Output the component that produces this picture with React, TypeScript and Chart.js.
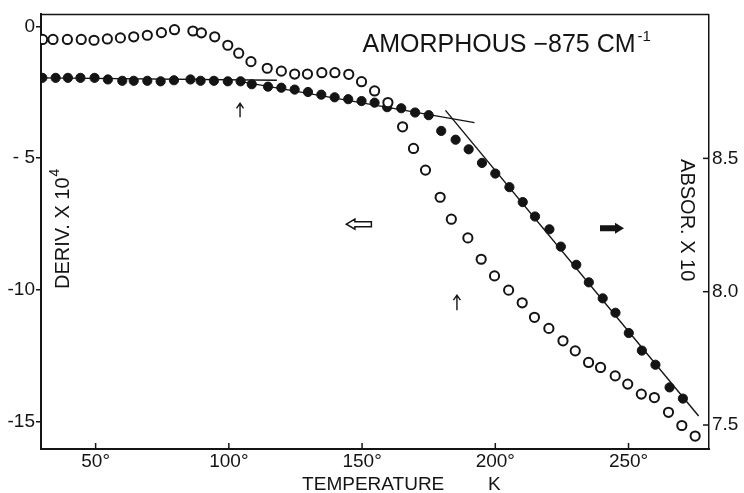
import React, { useEffect, useRef } from "react";
import { Chart, registerables } from "chart.js";

Chart.register(...registerables);

// Open circles: derivative (left axis, x 10^4)
const derivTemps = [30.1, 34.0, 39.4, 44.6, 49.4, 54.4, 59.3, 64.3, 69.4, 74.7, 79.6, 86.5, 89.7, 94.7, 99.6, 103.7, 108.3, 114.4, 119.7, 124.7, 129.5, 134.9, 139.8, 145.0, 149.8, 154.7, 159.7, 165.2, 169.3, 173.8, 179.3, 183.5, 189.7, 194.7, 199.7, 205.0, 210.1, 214.7, 220.1, 225.4, 230.0, 235.0, 239.5, 245.0, 249.7, 254.8, 259.7, 265.0, 270.0, 275.0];
const derivValues = [-0.50, -0.50, -0.50, -0.50, -0.53, -0.48, -0.44, -0.40, -0.34, -0.24, -0.13, -0.18, -0.25, -0.40, -0.72, -1.02, -1.34, -1.59, -1.70, -1.81, -1.81, -1.76, -1.76, -1.82, -2.10, -2.45, -2.89, -3.81, -4.63, -5.45, -6.48, -7.31, -8.02, -8.83, -9.46, -10.00, -10.48, -11.03, -11.45, -11.92, -12.30, -12.74, -12.93, -13.25, -13.56, -13.94, -14.07, -14.63, -15.13, -15.53];

// Filled circles: absorbance (right axis, x 10)
const absorTemps = [30.0, 35.0, 39.6, 44.3, 49.6, 54.6, 60.0, 64.3, 69.4, 74.4, 79.4, 85.6, 89.4, 94.4, 99.6, 104.4, 108.6, 114.7, 119.7, 124.7, 129.7, 134.7, 139.7, 144.8, 149.8, 154.7, 159.4, 164.7, 169.9, 175.0, 179.7, 185.1, 190.0, 195.0, 200.0, 205.3, 210.3, 214.9, 220.3, 224.6, 230.4, 235.1, 240.3, 245.1, 250.1, 255.0, 260.1, 265.4, 270.4];
const absorValues = [8.802, 8.802, 8.802, 8.802, 8.802, 8.796, 8.791, 8.791, 8.791, 8.789, 8.793, 8.796, 8.791, 8.791, 8.789, 8.789, 8.778, 8.769, 8.765, 8.758, 8.749, 8.739, 8.729, 8.722, 8.715, 8.709, 8.692, 8.688, 8.672, 8.662, 8.603, 8.570, 8.534, 8.483, 8.443, 8.392, 8.336, 8.282, 8.234, 8.169, 8.101, 8.035, 7.975, 7.921, 7.845, 7.779, 7.726, 7.641, 7.599];

// Fitted straight lines through the absorbance data
const fitLowTemps = [30, 118];
const fitLowValues = [8.802, 8.793];
const fitMidTemps = [104, 192.2];
const fitMidValues = [8.789, 8.634];
const fitHighTemps = [181.3, 276.3];
const fitHighValues = [8.68, 7.534];

// Ticks
const xTicks = [50, 100, 150, 200, 250];
const xTickLabels = ["50°", "100°", "150°", "200°", "250°"];
const derivTicks = [0, -5, -10, -15];
const derivTickLabels = ["0", "- 5", "-10", "-15"];
const absorTicks = [8.5, 8.0, 7.5];
const absorTickLabels = ["8.5", "8.0", "7.5"];

// Texts
const titleText = "AMORPHOUS −875 CM";
const titleSup = "-1";
const derivLabel = "DERIV. X 10";
const derivSup = "4";
const absorLabel = "ABSOR. X 10";
const xLabel = "TEMPERATURE";
const xUnit = "K";

// Annotation anchors in data units (temperature, deriv-axis value)
const titleAt = [150.2, -0.98];
const derivLabelAt = [38.1, -7.84];
const absorLabelAt = [271.6, -7.35];
const upArrows = [
  [104.2, -3.45, -2.92],
  [185.6, -10.76, -10.19],
];
const hollowArrowAt = [148.8, -7.5];
const solidArrowAt = [243.8, -7.65];
const xLabelAt = 127.5;
const xUnitAt = 197.3;

const FONT = '"Liberation Sans", Arial, sans-serif';
const INK = "#141414";

const pick = (vals: number[], labels: string[]) => (v: any) => {
  const i = vals.findIndex((x) => Math.abs(x - Number(v)) < 1e-6);
  return i >= 0 ? labels[i] : "";
};

export default function App() {
  const ref = useRef<HTMLCanvasElement>(null);

  useEffect(() => {
    document.body.style.margin = "0";
    const canvas = ref.current!;

    const annot = {
      id: "annot",
      afterDraw(chart: any) {
        const { ctx, chartArea: a } = chart;
        const sx = chart.scales.x;
        const sy = chart.scales.y;
        const sy1 = chart.scales.y1;
        const px = (t: number) => sx.getPixelForValue(t);
        const py = (v: number) => sy.getPixelForValue(v);
        ctx.save();
        ctx.strokeStyle = INK;
        ctx.fillStyle = INK;
        ctx.lineWidth = 1.5;
        // top frame line
        ctx.beginPath();
        ctx.moveTo(a.left, a.top);
        ctx.lineTo(a.right, a.top);
        ctx.stroke();
        // inner x ticks
        xTicks.forEach((t) => {
          const X = px(t);
          ctx.beginPath();
          ctx.moveTo(X, a.bottom);
          ctx.lineTo(X, a.bottom - 6);
          ctx.stroke();
        });
        // inner right ticks
        absorTicks.forEach((v) => {
          const Y = sy1.getPixelForValue(v);
          ctx.beginPath();
          ctx.moveTo(a.right, Y);
          ctx.lineTo(a.right - 6, Y);
          ctx.stroke();
        });

        // title
        ctx.textAlign = "left";
        ctx.textBaseline = "alphabetic";
        ctx.font = `25px ${FONT}`;
        const tx = px(titleAt[0]);
        const ty = py(titleAt[1]);
        ctx.fillText(titleText, tx, ty);
        const tw = ctx.measureText(titleText).width;
        ctx.font = `15px ${FONT}`;
        ctx.fillText(titleSup, tx + tw + 2, ty - 11);

        // left axis label (rotated, reading upward)
        ctx.save();
        ctx.translate(px(derivLabelAt[0]), py(derivLabelAt[1]));
        ctx.rotate(-Math.PI / 2);
        ctx.font = `20px ${FONT}`;
        ctx.textAlign = "center";
        ctx.textBaseline = "middle";
        ctx.fillText(derivLabel, 0, 0);
        const dw = ctx.measureText(derivLabel).width;
        ctx.font = `14px ${FONT}`;
        ctx.textAlign = "left";
        ctx.fillText(derivSup, dw / 2 + 1, -9);
        ctx.restore();

        // right axis label (rotated, reading downward)
        ctx.save();
        ctx.translate(px(absorLabelAt[0]), py(absorLabelAt[1]));
        ctx.rotate(Math.PI / 2);
        ctx.font = `20px ${FONT}`;
        ctx.textAlign = "center";
        ctx.textBaseline = "middle";
        ctx.fillText(absorLabel, 0, 0);
        ctx.restore();

        // x axis title
        ctx.font = `19px ${FONT}`;
        ctx.textAlign = "left";
        ctx.textBaseline = "alphabetic";
        ctx.fillText(xLabel, px(xLabelAt), a.bottom + 41);
        ctx.fillText(xUnit, px(xUnitAt), a.bottom + 41);

        // small up arrows
        ctx.lineWidth = 1.4;
        upArrows.forEach(([t, v0, v1]) => {
          const X = px(t);
          const Y0 = py(v0);
          const Y1 = py(v1);
          ctx.beginPath();
          ctx.moveTo(X, Y0);
          ctx.lineTo(X, Y1);
          ctx.moveTo(X - 3.5, Y1 + 5);
          ctx.lineTo(X, Y1);
          ctx.lineTo(X + 3.5, Y1 + 5);
          ctx.stroke();
        });

        // hollow left arrow
        {
          const cx = px(hollowArrowAt[0]);
          const cy = py(hollowArrowAt[1]);
          ctx.lineWidth = 1.5;
          ctx.beginPath();
          ctx.moveTo(cx - 12.5, cy);
          ctx.lineTo(cx - 4, cy - 5);
          ctx.lineTo(cx - 4, cy - 2.5);
          ctx.lineTo(cx + 12.5, cy - 2.5);
          ctx.lineTo(cx + 12.5, cy + 2.5);
          ctx.lineTo(cx - 4, cy + 2.5);
          ctx.lineTo(cx - 4, cy + 5);
          ctx.closePath();
          ctx.stroke();
        }
        // solid right arrow
        {
          const cx = px(solidArrowAt[0]);
          const cy = py(solidArrowAt[1]);
          ctx.beginPath();
          ctx.moveTo(cx + 12, cy);
          ctx.lineTo(cx + 3, cy - 5.5);
          ctx.lineTo(cx + 3, cy - 3);
          ctx.lineTo(cx - 12, cy - 3);
          ctx.lineTo(cx - 12, cy + 3);
          ctx.lineTo(cx + 3, cy + 3);
          ctx.lineTo(cx + 3, cy + 5.5);
          ctx.closePath();
          ctx.fill();
        }
        ctx.restore();
      },
    };

    const line = (ts: number[], vs: number[]) => ({
      data: ts.map((t, i) => ({ x: t, y: vs[i] })),
      yAxisID: "y1",
      showLine: true,
      borderColor: INK,
      borderWidth: 1.4,
      pointRadius: 0,
      fill: false,
      order: 3,
    });

    const chart = new Chart(canvas, {
      type: "scatter",
      data: {
        datasets: [
          {
            label: "deriv",
            data: derivTemps.map((t, i) => ({ x: t, y: derivValues[i] })),
            yAxisID: "y",
            pointRadius: 4.6,
            pointBorderWidth: 2,
            pointBackgroundColor: "#ffffff",
            pointBorderColor: INK,
            clip: 0,
            order: 1,
          } as any,
          {
            label: "absor",
            data: absorTemps.map((t, i) => ({ x: t, y: absorValues[i] })),
            yAxisID: "y1",
            pointRadius: 4.6,
            pointBorderWidth: 1,
            pointBackgroundColor: INK,
            pointBorderColor: INK,
            clip: 0,
            order: 2,
          } as any,
          line(fitLowTemps, fitLowValues) as any,
          line(fitMidTemps, fitMidValues) as any,
          line(fitHighTemps, fitHighValues) as any,
        ],
      },
      options: {
        responsive: false,
        animation: false,
        devicePixelRatio: 1,
        layout: { padding: { top: 14, left: 0, right: 0, bottom: 0 } },
        plugins: {
          legend: { display: false },
          tooltip: { enabled: false },
          title: { display: false },
        },
        scales: {
          x: {
            type: "linear",
            position: "bottom",
            min: 29.5,
            max: 280.2,
            afterFit: (s: any) => {
              s.height = 44;
            },
            afterBuildTicks: (s: any) => {
              s.ticks = xTicks.map((v) => ({ value: v }));
            },
            ticks: {
              callback: pick(xTicks, xTickLabels),
              font: { family: FONT, size: 19 },
              color: INK,
              padding: 1,
              maxRotation: 0,
              autoSkip: false,
            },
            grid: { display: true, drawOnChartArea: false, drawTicks: false },
            border: { display: true, color: INK, width: 2 },
          },
          y: {
            type: "linear",
            position: "left",
            min: -16.02,
            max: 0.45,
            afterFit: (s: any) => {
              s.width = 41;
            },
            afterBuildTicks: (s: any) => {
              s.ticks = derivTicks.map((v) => ({ value: v }));
            },
            ticks: {
              callback: pick(derivTicks, derivTickLabels),
              font: { family: FONT, size: 19 },
              color: INK,
              padding: 1,
              autoSkip: false,
            },
            grid: {
              display: true,
              drawOnChartArea: false,
              drawTicks: true,
              tickLength: 5,
              color: INK,
              lineWidth: 1.5,
            },
            border: { display: true, color: INK, width: 2 },
          },
          y1: {
            type: "linear",
            position: "right",
            min: 7.41,
            max: 9.04,
            afterFit: (s: any) => {
              s.width = 35;
            },
            afterBuildTicks: (s: any) => {
              s.ticks = absorTicks.map((v) => ({ value: v }));
            },
            ticks: {
              callback: pick(absorTicks, absorTickLabels),
              font: { family: FONT, size: 19 },
              color: INK,
              padding: 3,
              autoSkip: false,
            },
            grid: { display: true, drawOnChartArea: false, drawTicks: false },
            border: { display: true, color: INK, width: 1.5 },
          },
        },
      } as any,
      plugins: [annot],
    });

    return () => chart.destroy();
  }, []);

  return <canvas ref={ref} width={744} height={493} style={{ display: "block" }} />;
}
